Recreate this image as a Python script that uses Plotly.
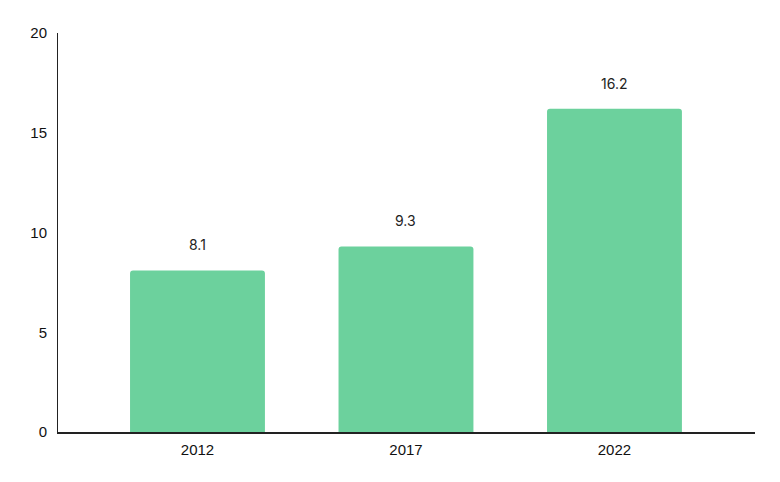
import plotly.graph_objects as go

years = ["2012", "2017", "2022"]
values = [8.1, 9.3, 16.2]
y_ticks = [0, 5, 10, 15, 20]

fig = go.Figure()
fig.add_trace(go.Bar(
    x=years, y=values,
    marker=dict(color="#6cd19d", cornerradius=3, line=dict(width=0)),
    width=0.647,
    hoverinfo="skip",
))
for i, v in enumerate(values):
    fig.add_annotation(x=i, y=v, xref="x", yref="y", text=f"{v}", showarrow=False, yanchor="bottom",
                       yshift=15, font=dict(family="Inter, Roboto, sans-serif", size=14, color="#222"))

fig.update_layout(
    width=780, height=482,
    margin=dict(l=50, r=33, t=25, b=58),
    plot_bgcolor="white", paper_bgcolor="white",
    showlegend=False,
    font=dict(family="Liberation Sans, Arial, sans-serif", size=15, color="#111"),
    xaxis=dict(type="category", range=[-0.669, 2.674], showline=True, linecolor="#222", linewidth=1.5,
               showgrid=False, ticks="", zeroline=False, ticklabelstandoff=3),
    yaxis=dict(range=[0, 20], tickvals=y_ticks, showline=True, linecolor="#222", linewidth=1,
               showgrid=False, ticks="", zeroline=False, ticklabelstandoff=7),
)
fig.write_html("out.html")
